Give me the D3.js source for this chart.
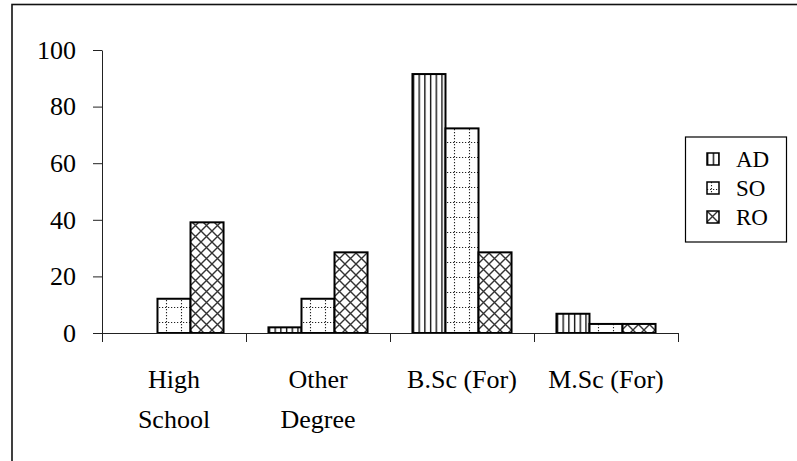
<!DOCTYPE html>
<html>
<head>
<meta charset="utf-8">
<script src="https://cdn.jsdelivr.net/npm/d3@7"></script>
<style>
  html, body { margin: 0; padding: 0; background: #fff; }
</style>
</head>
<body>
<svg id="chart" width="797" height="461" font-family="Liberation Serif"></svg>
<script>
// Education level of staff, per cent of each group
const categories = [["High", "School"], ["Other", "Degree"], ["B.Sc (For)"], ["M.Sc (For)"]];
const seriesNames = ["AD", "SO", "RO"];
const adValues = [0, 2, 91.5, 6.8];
const soValues = [12.1, 12.1, 72.3, 3.2];
const roValues = [39.1, 28.5, 28.5, 3.2];
const yTicks = [0, 20, 40, 60, 80, 100];

const seriesValues = [adValues, soValues, roValues];
const patternIds = ["pat-ad", "pat-so", "pat-ro"];
const FONT = "'Liberation Serif', monospace";

const svg = d3.select("#chart");
const W = 797, H = 461;
const plot = { left: 102, right: 678, top: 50, bottom: 333 };

// outer frame
svg.append("rect")
  .attr("x", 12).attr("y", 4.5)
  .attr("width", W).attr("height", H)
  .attr("fill", "#fff").attr("stroke", "#111").attr("stroke-width", 1.6);

// fill patterns
const defs = svg.append("defs");
const pAD = defs.append("pattern").attr("id", "pat-ad")
  .attr("patternUnits", "userSpaceOnUse").attr("width", 5.7).attr("height", 10);
pAD.append("rect").attr("width", 5.7).attr("height", 10).attr("fill", "#fff");
pAD.append("line").attr("x1", 0.7).attr("x2", 0.7).attr("y1", 0).attr("y2", 10)
  .attr("stroke", "#000").attr("stroke-width", 1.3);

const pSO = defs.append("pattern").attr("id", "pat-so")
  .attr("patternUnits", "userSpaceOnUse").attr("width", 15).attr("height", 15);
pSO.append("rect").attr("width", 15).attr("height", 15).attr("fill", "#fff");
pSO.append("line").attr("x1", 0).attr("x2", 15).attr("y1", 7.5).attr("y2", 7.5)
  .attr("stroke", "#222").attr("stroke-width", 1.1).attr("stroke-dasharray", "1.2,1.8");
pSO.append("line").attr("x1", 4.5).attr("x2", 4.5).attr("y1", 0).attr("y2", 15)
  .attr("stroke", "#222").attr("stroke-width", 1.1).attr("stroke-dasharray", "1.2,1.8");

const pRO = defs.append("pattern").attr("id", "pat-ro")
  .attr("patternUnits", "userSpaceOnUse").attr("width", 11).attr("height", 11);
pRO.append("rect").attr("width", 11).attr("height", 11).attr("fill", "#fff");
pRO.append("path").attr("d", "M-1,-1L12,12M12,-1L-1,12")
  .attr("stroke", "#333").attr("stroke-width", 1.4).attr("fill", "none");

// scales
const x0 = d3.scaleBand().domain(d3.range(categories.length))
  .range([plot.left, plot.right]).padding(0);
const x1 = d3.scaleBand().domain(seriesNames)
  .range([0, x0.bandwidth()]).paddingInner(0).paddingOuter(0.68);
const y = d3.scaleLinear().domain([0, 100]).range([plot.bottom, plot.top]);

// bars
const groups = svg.append("g").selectAll("g")
  .data(categories.map((c, i) => i))
  .join("g")
  .attr("transform", i => `translate(${x0(i)},0)`);

groups.selectAll("rect")
  .data(i => seriesNames.map((s, k) => ({ s, k, v: seriesValues[k][i] })))
  .join("rect")
  .attr("x", d => x1(d.s))
  .attr("width", x1.bandwidth())
  .attr("y", d => y(d.v))
  .attr("height", d => y(0) - y(d.v))
  .attr("fill", d => `url(#${patternIds[d.k]})`)
  .attr("stroke", "#000").attr("stroke-width", 2);

// y axis
const yAxis = svg.append("g")
  .attr("transform", `translate(${plot.left},0)`)
  .call(d3.axisLeft(y).tickValues(yTicks).tickSize(9).tickSizeOuter(0).tickPadding(17));
yAxis.attr("font-family", "Liberation Serif").attr("font-size", 26);
yAxis.select(".domain").attr("stroke", "#222");
yAxis.selectAll(".tick line").attr("stroke", "#222");
yAxis.selectAll(".tick text")
  .attr("font-family", "Liberation Serif").attr("font-size", 26)
  .style("font-family", FONT).style("font-size", "26px").attr("fill", "#000");

// x axis: ticks between categories
const xb = d3.scaleLinear().domain([0, categories.length]).range([plot.left, plot.right]);
const xAxis = svg.append("g")
  .attr("transform", `translate(0,${plot.bottom})`)
  .call(d3.axisBottom(xb).tickValues(d3.range(categories.length + 1))
    .tickSize(9).tickSizeOuter(0).tickFormat(""));
xAxis.select(".domain").attr("stroke", "#222");
xAxis.selectAll(".tick line").attr("stroke", "#222");

// category labels
const labels = svg.append("g").selectAll("text")
  .data(categories)
  .join("text")
  .attr("x", (c, i) => x0(i) + x0.bandwidth() / 2)
  .attr("y", 388)
  .attr("text-anchor", "middle")
  .attr("font-family", "Liberation Serif").attr("font-size", 26)
  .style("font-family", FONT).style("font-size", "26px")
  .attr("fill", "#000");
labels.selectAll("tspan")
  .data(c => c)
  .join("tspan")
  .attr("x", function () { return d3.select(this.parentNode).attr("x"); })
  .attr("dy", (t, j) => j === 0 ? 0 : 40)
  .text(t => t);

// legend
const lg = svg.append("g");
lg.append("rect")
  .attr("x", 685.5).attr("y", 137)
  .attr("width", 101).attr("height", 105)
  .attr("fill", "#fff").attr("stroke", "#000").attr("stroke-width", 1.2);
const items = lg.selectAll("g.item")
  .data(seriesNames)
  .join("g").attr("class", "item")
  .attr("transform", (s, k) => `translate(707,${153 + k * 29})`);
items.append("rect")
  .attr("width", 12).attr("height", 12)
  .attr("fill", (s, k) => `url(#${patternIds[k]})`)
  .attr("stroke", "#000").attr("stroke-width", 1.5);
items.append("text")
  .attr("x", 29).attr("y", 13.5)
  .attr("font-family", "Liberation Serif").attr("font-size", 23)
  .style("font-family", FONT).style("font-size", "23px")
  .attr("fill", "#000")
  .text(s => s);
</script>
</body>
</html>
